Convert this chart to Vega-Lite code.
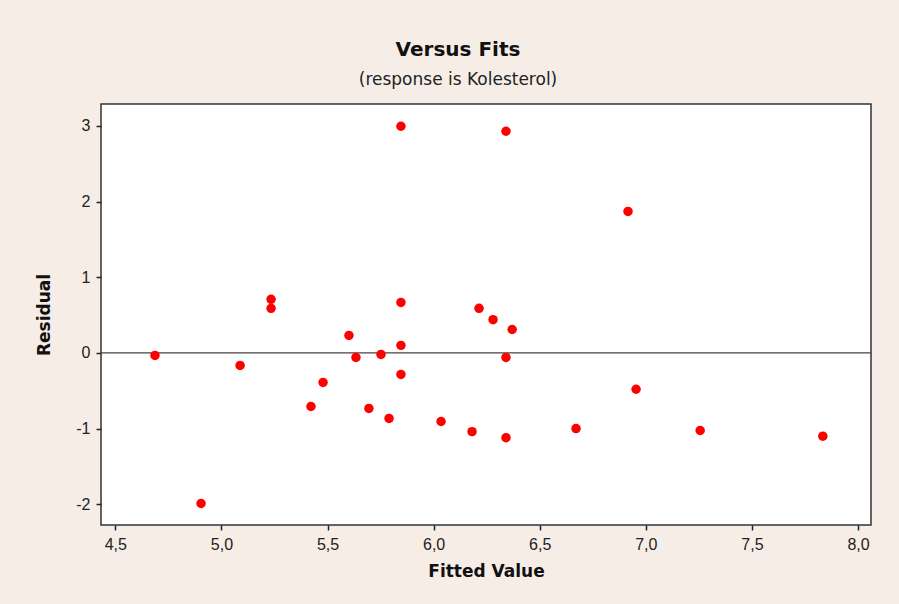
{
  "$schema": "https://vega.github.io/schema/vega-lite/v6.json",
  "width": 770,
  "height": 421,
  "autosize": {"type": "none"},
  "padding": {"left": 101, "top": 104, "right": 28, "bottom": 79},
  "background": "#F6EDE7",
  "title": {
    "text": "Versus Fits",
    "subtitle": "(response is Kolesterol)",
    "anchor": "middle",
    "frame": "group",
    "dx": -28,
    "offset": 16,
    "font": "DejaVu Sans",
    "fontSize": 20,
    "fontWeight": "bold",
    "color": "#111111",
    "subtitleFont": "DejaVu Sans",
    "subtitleFontSize": 17,
    "subtitleColor": "#222222",
    "subtitlePadding": 12
  },
  "config": {
    "view": {"fill": "#FFFFFF", "stroke": "#333333", "strokeWidth": 1.5},
    "axis": {
      "labelFont": "Liberation Sans",
      "labelFontSize": 16,
      "labelColor": "#222222",
      "titleFont": "DejaVu Sans",
      "titleFontSize": 17,
      "titleFontWeight": "bold",
      "titleColor": "#111111",
      "tickColor": "#222222",
      "tickSize": 5,
      "tickWidth": 1.5,
      "domain": false,
      "grid": false
    }
  },
  "data": {
    "values": [
      {"fit": 4.687, "res": -0.033},
      {"fit": 4.904, "res": -1.99},
      {"fit": 5.088, "res": -0.165},
      {"fit": 5.234, "res": 0.708},
      {"fit": 5.234, "res": 0.589},
      {"fit": 5.422, "res": -0.708},
      {"fit": 5.479, "res": -0.39},
      {"fit": 5.601, "res": 0.231},
      {"fit": 5.634, "res": -0.06},
      {"fit": 5.695, "res": -0.734},
      {"fit": 5.752, "res": -0.02},
      {"fit": 5.79, "res": -0.866},
      {"fit": 5.846, "res": 2.996},
      {"fit": 5.846, "res": 0.668},
      {"fit": 5.846, "res": 0.1},
      {"fit": 5.846, "res": -0.284},
      {"fit": 6.035, "res": -0.906},
      {"fit": 6.181, "res": -1.04},
      {"fit": 6.214, "res": 0.59},
      {"fit": 6.28, "res": 0.44},
      {"fit": 6.341, "res": 2.93},
      {"fit": 6.37, "res": 0.31},
      {"fit": 6.341, "res": -0.06},
      {"fit": 6.341, "res": -1.12},
      {"fit": 6.671, "res": -1.0},
      {"fit": 6.916, "res": 1.87},
      {"fit": 6.954, "res": -0.48},
      {"fit": 7.256, "res": -1.025},
      {"fit": 7.834, "res": -1.1}
    ]
  },
  "layer": [
    {
      "data": {"values": [{"zero": 0}]},
      "mark": {"type": "rule", "color": "#444444", "strokeWidth": 1.2},
      "encoding": {
        "y": {"field": "zero", "type": "quantitative", "scale": {"domain": [-2.274, 3.29], "nice": false, "zero": false}}
      }
    },
    {
      "mark": {"type": "circle", "color": "#FF0000", "opacity": 1, "size": 90},
      "encoding": {
        "x": {
          "field": "fit",
          "type": "quantitative",
          "title": "Fitted Value",
          "scale": {"domain": [4.4326, 8.061], "nice": false, "zero": false},
          "axis": {
            "values": [4.5, 5.0, 5.5, 6.0, 6.5, 7.0, 7.5, 8.0],
            "labelExpr": "replace(format(datum.value, '.1f'), '.', ',')",
            "labelPadding": 6,
            "titlePadding": 11
          }
        },
        "y": {
          "field": "res",
          "type": "quantitative",
          "title": "Residual",
          "scale": {"domain": [-2.274, 3.29], "nice": false, "zero": false},
          "axis": {
            "values": [-2, -1, 0, 1, 2, 3],
            "labelExpr": "datum.value + ''",
            "labelPadding": 6,
            "titlePadding": 22
          }
        }
      }
    }
  ]
}
